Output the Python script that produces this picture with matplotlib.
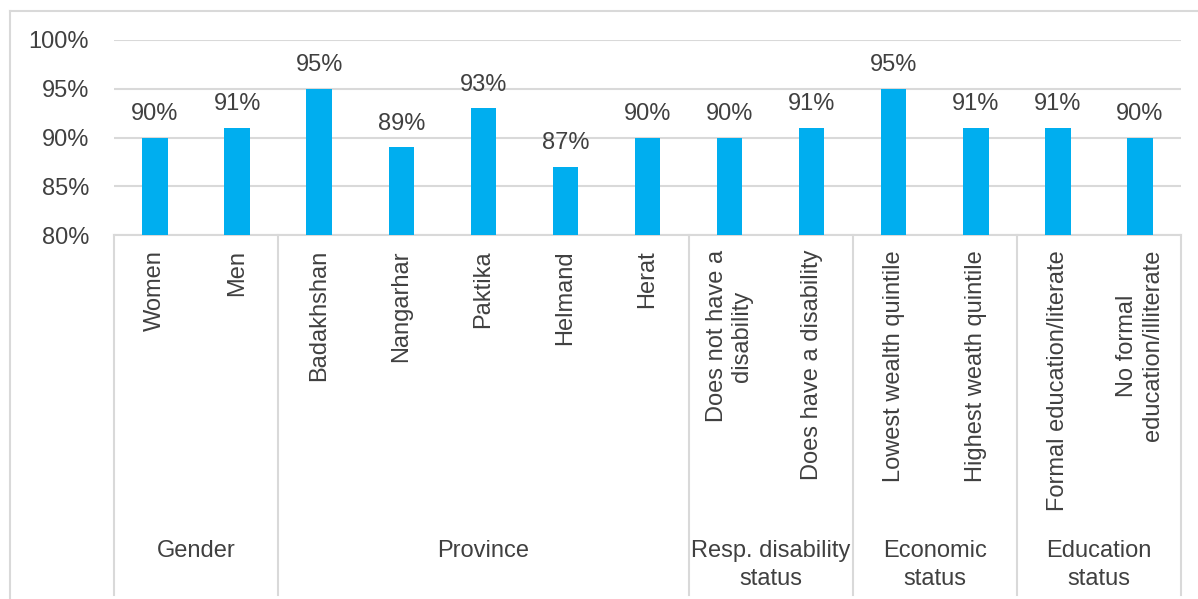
import matplotlib.pyplot as plt
from matplotlib.transforms import blended_transform_factory
from matplotlib.lines import Line2D

# data
categories = ['Women', 'Men', 'Badakhshan', 'Nangarhar', 'Paktika', 'Helmand', 'Herat',
              'Does not have a\ndisability', 'Does have a disability',
              'Lowest wealth quintile', 'Highest weath quintile',
              'Formal education/literate', 'No formal\neducation/illiterate']
values = [90, 91, 95, 89, 93, 87, 90, 90, 91, 95, 91, 91, 90]
groups = ['Gender', 'Province', 'Resp. disability\nstatus', 'Economic\nstatus', 'Education\nstatus']
group_sizes = [2, 5, 2, 2, 2]
y_ticks = [80, 85, 90, 95, 100]

bar_color = '#00AEEF'
text_color = '#404040'
grid_color = '#d9d9d9'

plt.rcParams['font.family'] = ['Liberation Sans', 'DejaVu Sans']
plt.rcParams['font.size'] = 17

W, H = 1198, 599
fig = plt.figure(figsize=(W / 100, H / 100), dpi=100)
ax = fig.add_axes([114 / W, 1 - 235 / H, (1181 - 114) / W, (235 - 40) / H])

x = list(range(len(values)))
bars = ax.bar(x, values, width=0.31, color=bar_color, zorder=3)
ax.bar_label(bars, labels=[f'{v}%' for v in values], padding=9, color=text_color)

ax.set_xlim(-0.5, len(values) - 0.5)
ax.set_ylim(80, 100)
ax.set_yticks(y_ticks)
ax.set_yticklabels([f'{t}%' for t in y_ticks], color=text_color)
ax.tick_params(axis='y', length=0, pad=18)
ax.set_xticks([])
ax.grid(axis='y', color=grid_color, linewidth=1.5, zorder=0)
for side in ['top', 'right', 'left']:
    ax.spines[side].set_visible(False)
ax.spines['bottom'].set_color(grid_color)
ax.spines['bottom'].set_linewidth(1.5)

# category labels and group labels below the axis
trans = blended_transform_factory(ax.transData, fig.transFigure)
for i, lab in enumerate(categories):
    ax.text(i, 1 - 250 / H, lab, transform=trans, rotation=90, ha='center', va='top',
            multialignment='center', color=text_color)

start = -0.5
bounds = [start]
for name, n in zip(groups, group_sizes):
    ax.text(start + n / 2, 1 - 540 / H, name, transform=trans, ha='center', va='top',
            multialignment='center', linespacing=1.35, color=text_color)
    start += n
    bounds.append(start)
for b in bounds:
    ax.add_line(Line2D([b, b], [1 - 235 / H, 1 - 595 / H], transform=trans,
                       color=grid_color, linewidth=1.5, clip_on=False))

# outer frame
fig.add_artist(Line2D([10 / W, 1], [1 - 11 / H, 1 - 11 / H], transform=fig.transFigure,
                      color=grid_color, linewidth=1.5))
fig.add_artist(Line2D([10 / W, 10 / W], [1 - 11 / H, 0], transform=fig.transFigure,
                      color=grid_color, linewidth=1.5))

fig.savefig('out.png', dpi=100)
